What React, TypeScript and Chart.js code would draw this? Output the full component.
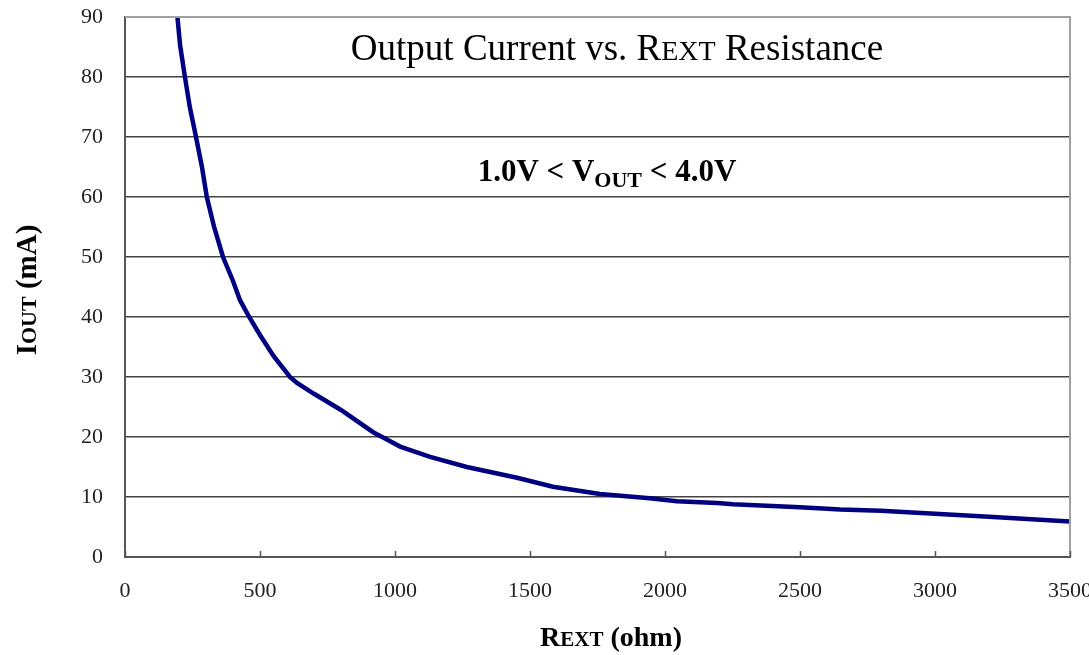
import React, { useEffect, useRef } from "react";
import { Chart, registerables } from "chart.js";

Chart.register(...registerables);

const resistance = [185, 190, 204, 222, 240, 263, 285, 303, 330, 363, 400, 426, 460, 500, 550, 611, 637, 700, 800, 919, 970, 1019, 1130, 1266, 1452, 1585, 1759, 1944, 2044, 2193, 2252, 2500, 2650, 2800, 3000, 3200, 3500];
const current = [95, 92, 85.3, 80, 75, 70, 65, 60, 55, 50, 46, 42.8, 40, 37, 33.5, 30, 29, 27.2, 24.5, 20.8, 19.6, 18.4, 16.7, 15.0, 13.2, 11.7, 10.5, 9.8, 9.3, 9.0, 8.8, 8.3, 7.9, 7.7, 7.2, 6.7, 5.9];

const xTicks = [0, 500, 1000, 1500, 2000, 2500, 3000, 3500];
const yTicks = [0, 10, 20, 30, 40, 50, 60, 70, 80, 90];

const SERIF = '"Liberation Serif", "Times New Roman", serif';

type Part = { t: string; size: number; dy?: number };

function drawParts(ctx: CanvasRenderingContext2D, parts: Part[], cx: number, cy: number, weight: string) {
  let total = 0;
  const widths = parts.map((p) => {
    ctx.font = `${weight} ${p.size}px ${SERIF}`;
    const w = ctx.measureText(p.t).width;
    total += w;
    return w;
  });
  let x = cx - total / 2;
  ctx.textBaseline = "alphabetic";
  ctx.textAlign = "left";
  parts.forEach((p, i) => {
    ctx.font = `${weight} ${p.size}px ${SERIF}`;
    ctx.fillText(p.t, x, cy + (p.dy || 0));
    x += widths[i];
  });
}

const decorPlugin = {
  id: "decor",
  afterDraw(chart: any) {
    const ctx: CanvasRenderingContext2D = chart.ctx;
    const a = chart.chartArea;
    const xs = chart.scales.x;
    ctx.save();
    ctx.strokeStyle = "#a0a0a0";
    ctx.lineWidth = 2;
    ctx.beginPath();
    ctx.moveTo(a.right, a.bottom);
    ctx.lineTo(a.right, a.top);
    ctx.lineTo(a.left, a.top);
    ctx.stroke();
    ctx.strokeStyle = "#555";
    ctx.lineWidth = 1.5;
    xTicks.forEach((v) => {
      const px = Math.round(xs.getPixelForValue(v)) + 0.5;
      ctx.beginPath();
      ctx.moveTo(px, a.bottom);
      ctx.lineTo(px, a.bottom - 6);
      ctx.stroke();
    });
    ctx.fillStyle = "#000";
    drawParts(ctx, [
      { t: "Output Current vs. R", size: 37 },
      { t: "EXT", size: 28 },
      { t: " Resistance", size: 37 },
    ], 617, 60, "normal");
    drawParts(ctx, [
      { t: "1.0V < V", size: 31 },
      { t: "OUT", size: 22, dy: 6 },
      { t: " < 4.0V", size: 31 },
    ], 607, 181, "bold");
    drawParts(ctx, [
      { t: "R", size: 28 },
      { t: "EXT", size: 21 },
      { t: " (ohm)", size: 28 },
    ], 611, 646, "bold");
    ctx.save();
    ctx.translate(36, 290);
    ctx.rotate(-Math.PI / 2);
    drawParts(ctx, [
      { t: "I", size: 29 },
      { t: "OUT", size: 22 },
      { t: " (mA)", size: 29 },
    ], 0, 0, "bold");
    ctx.restore();
    ctx.restore();
  },
};

const zeroPad = (s: any) => {
  s.paddingTop = 0;
  s.paddingBottom = 0;
  s.paddingLeft = 0;
  s.paddingRight = 0;
};

export default function App() {
  const ref = useRef<HTMLCanvasElement | null>(null);
  useEffect(() => {
    document.body.style.margin = "0";
    const canvas = ref.current;
    if (!canvas) return;
    const chart = new Chart(canvas, {
      type: "line",
      data: {
        datasets: [
          {
            data: resistance.map((r, i) => ({ x: r, y: current[i] })),
            borderColor: "#000080",
            borderWidth: 4.5,
            pointRadius: 0,
            tension: 0,
            fill: false,
          },
        ],
      },
      options: {
        animation: false,
        responsive: false,
        devicePixelRatio: 1,
        layout: { padding: { left: 0, top: 17, right: 19, bottom: 0 } },
        plugins: { legend: { display: false }, tooltip: { enabled: false }, title: { display: false } },
        scales: {
          x: {
            type: "linear",
            min: 0,
            max: 3500,
            afterBuildTicks: (s: any) => {
              s.ticks = xTicks.map((v) => ({ value: v }));
            },
            afterFit: (s: any) => {
              s.height = 98;
              zeroPad(s);
            },
            grid: { display: false, drawTicks: false },
            border: { display: true, color: "#555", width: 2 },
            ticks: {
              padding: 21,
              color: "#222",
              font: { family: SERIF, size: 22 },
              maxRotation: 0,
              callback: (v: any) => String(v),
            },
          },
          y: {
            type: "linear",
            min: 0,
            max: 90,
            afterBuildTicks: (s: any) => {
              s.ticks = yTicks.map((v) => ({ value: v }));
            },
            afterFit: (s: any) => {
              s.width = 125;
              zeroPad(s);
            },
            grid: {
              drawTicks: false,
              color: (c: any) => (c.tick && (c.tick.value === 0 || c.tick.value === 90) ? "rgba(0,0,0,0)" : "#444"),
              lineWidth: 1.5,
            },
            border: { display: true, color: "#555", width: 2 },
            ticks: {
              padding: 22,
              color: "#222",
              font: { family: SERIF, size: 22 },
              callback: (v: any) => String(v),
            },
          },
        },
      },
      plugins: [decorPlugin],
    });
    return () => chart.destroy();
  }, []);
  return (
    <div style={{ position: "fixed", left: 0, top: 0, width: 1089, height: 655, background: "#fff" }}>
      <canvas ref={ref} width={1089} height={655} style={{ display: "block", width: 1089, height: 655 }} />
    </div>
  );
}
